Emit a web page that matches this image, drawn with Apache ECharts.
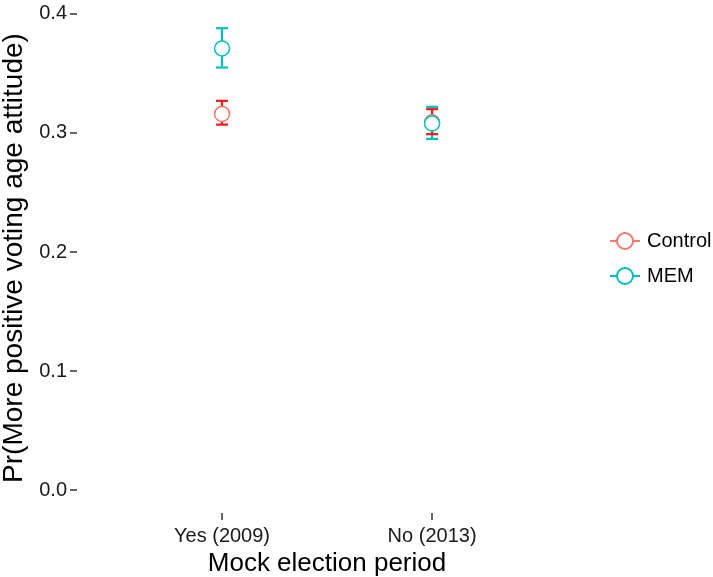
<!DOCTYPE html>
<html>
<head>
<meta charset="utf-8">
<script src="https://cdn.jsdelivr.net/npm/echarts@6/dist/echarts.min.js"></script>
<style>
  html, body { margin: 0; padding: 0; background: #fff; }
  #chart { width: 713px; height: 577px; }
</style>
</head>
<body>
<div id="chart"></div>
<script>
// Mock election period categories (placed at x = 1, 2)
const categories = ['Yes (2009)', 'No (2013)'];

// Predicted probability with 95% interval, Control group
const controlMean  = [0.316, 0.309];
const controlLower = [0.307, 0.299];
const controlUpper = [0.327, 0.320];

// Predicted probability with 95% interval, MEM group
const memMean  = [0.371, 0.308];
const memLower = [0.355, 0.295];
const memUpper = [0.388, 0.322];

// Y-axis tick values
const yTicks = [0.0, 0.1, 0.2, 0.3, 0.4];

const FONT = "'Liberation Sans', Arial, sans-serif";
const colControl = '#F8766D';
const colControlBar = '#F21A1A';
const colMem = '#00BFC4';

function barData(lower, upper) {
  return categories.map((c, i) => [i + 1, lower[i], upper[i]]);
}
function pointData(mean) {
  return categories.map((c, i) => [i + 1, mean[i]]);
}

function errorBar(color) {
  return function (params, api) {
    const x = api.value(0);
    const lo = api.coord([x, api.value(1)]);
    const hi = api.coord([x, api.value(2)]);
    const hw = 6;
    const style = { stroke: color, lineWidth: 2.2, fill: null };
    return {
      type: 'group',
      children: [
        { type: 'line', shape: { x1: lo[0], y1: lo[1], x2: hi[0], y2: hi[1] }, style },
        { type: 'line', shape: { x1: lo[0] - hw, y1: lo[1], x2: lo[0] + hw, y2: lo[1] }, style },
        { type: 'line', shape: { x1: hi[0] - hw, y1: hi[1], x2: hi[0] + hw, y2: hi[1] }, style }
      ]
    };
  };
}

// Legend key: short line with an open circle in the middle
const legendIcon = 'path://M0,8L7,8M23,8L30,8M23,8A8,8,0,1,1,7,8A8,8,0,1,1,23,8Z';

const chart = echarts.init(document.getElementById('chart'), null, { renderer: 'canvas' });
chart.setOption({
  animation: false,
  backgroundColor: '#ffffff',
  textStyle: { fontFamily: FONT },
  grid: {
    left: 77, right: 136, top: 3, bottom: 64,
    containLabel: false,
    outerBoundsMode: 'none'
  },
  legend: {
    data: ['Control', 'MEM'],
    orient: 'vertical',
    left: 604,
    top: 226,
    icon: legendIcon,
    itemWidth: 30,
    itemHeight: 16,
    itemGap: 15,
    textStyle: { fontFamily: FONT, fontSize: 20, color: '#000', padding: [0, 0, 0, 2] }
  },
  xAxis: {
    type: 'value',
    min: 0.3095,
    max: 2.69,
    splitLine: { show: false },
    axisLine: { show: false, onZero: false },
    axisTick: {
      show: true,
      length: 7,
      customValues: [1, 2],
      lineStyle: { color: '#333', width: 1.5 }
    },
    axisLabel: {
      customValues: [1, 2],
      formatter: v => categories[Math.round(v) - 1],
      fontFamily: FONT,
      fontSize: 20,
      color: '#1a1a1a',
      margin: 13
    },
    name: 'Mock election period',
    nameLocation: 'middle',
    nameGap: 38,
    nameTextStyle: { fontFamily: FONT, fontSize: 26, color: '#000', verticalAlign: 'top' }
  },
  yAxis: {
    type: 'value',
    min: -0.0193,
    max: 0.4092,
    splitLine: { show: false },
    axisLine: { show: false, onZero: false },
    axisTick: {
      show: true,
      length: 7,
      customValues: yTicks,
      lineStyle: { color: '#333', width: 1.5 }
    },
    axisLabel: {
      customValues: yTicks,
      formatter: v => v.toFixed(1),
      fontFamily: FONT,
      fontSize: 20,
      color: '#1a1a1a',
      margin: 10
    },
    name: 'Pr(More positive voting age attitude)',
    nameLocation: 'middle',
    nameGap: 43,
    nameTextStyle: { fontFamily: FONT, fontSize: 28, color: '#000' }
  },
  series: [
    {
      name: 'MEM interval',
      type: 'custom',
      renderItem: errorBar(colMem),
      data: barData(memLower, memUpper),
      z: 2,
      silent: true
    },
    {
      name: 'Control interval',
      type: 'custom',
      renderItem: errorBar(colControlBar),
      data: barData(controlLower, controlUpper),
      z: 3,
      silent: true
    },
    {
      name: 'Control',
      type: 'scatter',
      symbol: 'circle',
      symbolSize: 15,
      data: pointData(controlMean),
      itemStyle: { color: '#ffffff', borderColor: colControl, borderWidth: 1.5, opacity: 1 },
      z: 4
    },
    {
      name: 'MEM',
      type: 'scatter',
      symbol: 'circle',
      symbolSize: 15,
      data: pointData(memMean),
      itemStyle: { color: '#ffffff', borderColor: colMem, borderWidth: 1.5, opacity: 1 },
      z: 5
    }
  ]
});
</script>
</body>
</html>
